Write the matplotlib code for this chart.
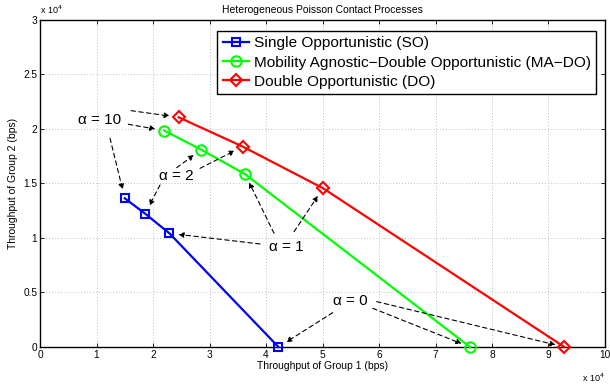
import numpy as np
import matplotlib.pyplot as plt

plt.rcParams['font.family'] = ['Liberation Sans', 'DejaVu Sans']

# throughput values, in units of 10^4 bps
so_g1 = [1.50, 1.86, 2.29, 4.22]
so_g2 = [1.364, 1.223, 1.043, 0.0]
mado_g1 = [2.20, 2.855, 3.63, 7.61]
mado_g2 = [1.985, 1.81, 1.585, 0.0]
do_g1 = [2.455, 3.59, 5.01, 9.28]
do_g2 = [2.107, 1.838, 1.456, 0.0]

alpha_labels = ['\u03b1 = 10', '\u03b1 = 2', '\u03b1 = 1', '\u03b1 = 0']

fig = plt.figure(figsize=(6.1, 3.84), dpi=100)
ax = fig.add_axes([0.0656, 0.0964, 0.9262, 0.8516])

ax.plot(so_g1, so_g2, '-s', color='#0000ff', lw=1.6, ms=6, mfc='none', mew=1.5,
        label='Single Opportunistic (SO)', clip_on=False, zorder=3)
ax.plot(mado_g1, mado_g2, '-o', color='#00ff00', lw=1.6, ms=7.5, mfc='none', mew=1.5,
        label='Mobility Agnostic\u2212Double Opportunistic (MA\u2212DO)', clip_on=False, zorder=3)
ax.plot(do_g1, do_g2, '-D', color='#ff0000', lw=1.6, ms=6.5, mfc='none', mew=1.5,
        label='Double Opportunistic (DO)', clip_on=False, zorder=3)

# annotation text positions and arrow tails (data coords)
text_pos = [(1.05, 2.083), (2.42, 1.572), (4.366, 0.915), (5.499, 0.425)]
tails = [
    [(1.611, 2.168), (1.563, 2.043), (1.239, 1.915)],
    [(2.832, 1.639), (2.419, 1.645), (2.124, 1.486)],
    [(4.496, 1.058), (4.142, 1.043), (3.894, 0.945)],
    [(5.959, 0.416), (5.888, 0.355), (5.18, 0.315)],
]

for i, (lab, tp) in enumerate(zip(alpha_labels, text_pos)):
    ax.text(tp[0], tp[1], lab, fontsize=11, ha='center', va='center')
    targets = [(do_g1[i], do_g2[i]), (mado_g1[i], mado_g2[i]), (so_g1[i], so_g2[i])]
    for tl, tg in zip(tails[i], targets):
        ax.annotate('', xy=tg, xytext=tl,
                    arrowprops=dict(arrowstyle='-|>', linestyle=(0, (4, 3)), color='k',
                                    lw=0.8, mutation_scale=8, shrinkA=0, shrinkB=6.5))

ax.set_xlim(0, 10)
ax.set_ylim(0, 3)
ax.set_xticks(np.arange(0, 11, 1))
ax.set_yticks(np.arange(0, 3.01, 0.5))
ax.set_xticklabels([str(v) for v in range(11)])
ax.set_yticklabels(['0', '0.5', '1', '1.5', '2', '2.5', '3'])
ax.tick_params(direction='in', top=True, right=True, labelsize=7.3, length=3, width=0.6, pad=2)
ax.grid(True, linestyle=(0, (1, 2.5)), color='#aaaaaa', lw=0.6)
for sp in ax.spines.values():
    sp.set_linewidth(1.0)

ax.set_xlabel('Throughput of Group 1 (bps)', fontsize=7.5, labelpad=1)
ax.set_ylabel('Throughput of Group 2 (bps)', fontsize=7.5, labelpad=4)
ax.set_title('Heterogeneous Poisson Contact Processes', fontsize=7.5, pad=5)

ax.text(0.0, 1.012, 'x 10$^4$', transform=ax.transAxes, fontsize=6.5, ha='left', va='bottom')
ax.text(1.0, -0.075, 'x 10$^4$', transform=ax.transAxes, fontsize=6.5, ha='right', va='top')

leg = ax.legend(loc='upper right', bbox_to_anchor=(0.984, 0.966), borderaxespad=0,
                fontsize=11.1, fancybox=False, edgecolor='k', framealpha=1,
                handlelength=1.7, handletextpad=0.3, labelspacing=0.33, borderpad=0.35)
leg.get_frame().set_linewidth(1.0)

fig.savefig('out.png', dpi=100)
